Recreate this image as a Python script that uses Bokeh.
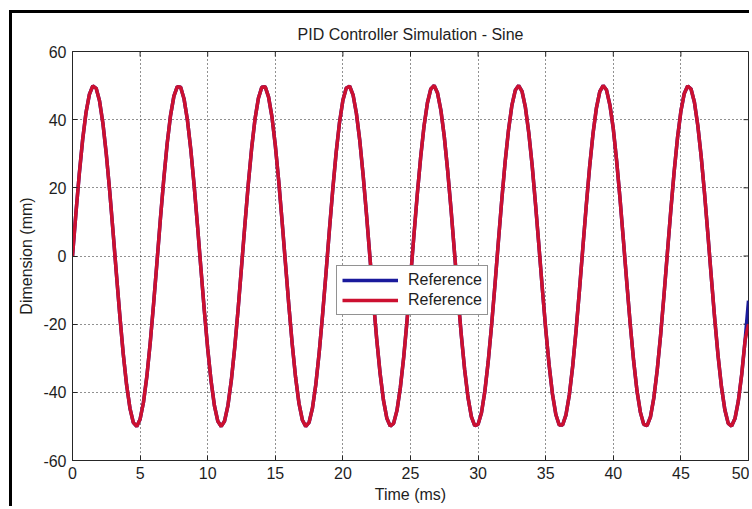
from bokeh.plotting import figure
from bokeh.models import FixedTicker, Legend, LegendItem, Range1d
from bokeh.embed import file_html
from bokeh.resources import INLINE

title_text = "PID Controller Simulation - Sine"
x_label = "Time (ms)"
y_label = "Dimension (mm)"
x_ticks = [0, 5, 10, 15, 20, 25, 30, 35, 40, 45, 50]
y_ticks = [-60, -40, -20, 0, 20, 40, 60]
legend_labels = ["Reference", "Reference"]
t_step = 0.25

reference_mm = [
    0.0, 12.4, 24.0, 34.1, 42.1, 47.4, 49.9, 49.2, 45.5, 38.9, 29.9, 19.1, 7.1, -5.4, -17.5, -28.6, -37.8, -44.7, -48.9, -50.0, -47.9, -42.9, -35.3, -25.4, -14.0,
    -1.7, 10.8, 22.5, 32.9, 41.2, 46.9, 49.7, 49.5, 46.1, 39.9, 31.2, 20.6, 8.7, -3.8, -16.0, -27.2, -36.7, -44.0, -48.5, -50.0, -48.4, -43.8, -36.4, -26.8, -15.6,
    -3.3, 9.1, 21.0, 31.6, 40.2, 46.3, 49.5, 49.7, 46.7, 40.9, 32.5, 22.1, 10.3, -2.1, -14.4, -25.8, -35.6, -43.2, -48.1, -50.0, -48.8, -44.6, -37.6, -28.2, -17.1,
    -5.0, 7.5, 19.5, 30.3, 39.2, 45.7, 49.3, 49.8, 47.3, 41.8, 33.8, 23.6, 12.0, -0.4, -12.8, -24.4, -34.4, -42.3, -47.6, -49.9, -49.1, -45.3, -38.6, -29.6, -18.7,
    -6.6, 5.9, 18.0, 28.9, 38.1, 44.9, 49.0, 50.0, 47.8, 42.7, 35.0, 25.0, 13.6, 1.2, -11.2, -22.9, -33.2, -41.4, -47.1, -49.8, -49.4, -46.0, -39.7, -30.9, -20.2,
    -8.3, 4.2, 16.4, 27.6, 37.0, 44.2, 48.6, 50.0, 48.3, 43.6, 36.1, 26.5, 15.1, 2.9, -9.6, -21.4, -31.9, -40.5, -46.5, -49.6, -49.6, -46.6, -40.7, -32.2, -21.7,
    -9.9, 2.5, 14.8, 26.2, 35.9, 43.4, 48.2, 50.0, 48.7, 44.3, 37.3, 27.8, 16.7, 4.5, -7.9, -19.9, -30.6, -39.5, -45.8, -49.4, -49.8, -47.2, -41.6, -33.4, -23.2,
    -11.5, 0.9, 13.2, 24.7, 34.7, 42.5, 47.7, 49.9, 49.0, 45.1, 38.3, 29.2, 18.3, 6.2, -6.3, -18.4, -29.3, -38.4, -45.1, -49.1, -49.9, -47.7, -42.5, -34.7, -24.7,
    -13.1,
]
output_mm = [
    0.0, 12.4, 24.0, 34.1, 42.1, 47.4, 49.9, 49.2, 45.5, 38.9, 29.9, 19.1, 7.1, -5.4, -17.5, -28.6, -37.8, -44.7, -48.9, -50.0, -47.9, -42.9, -35.3, -25.4, -14.0,
    -1.7, 10.8, 22.5, 32.9, 41.2, 46.9, 49.7, 49.5, 46.1, 39.9, 31.2, 20.6, 8.7, -3.8, -16.0, -27.2, -36.7, -44.0, -48.5, -50.0, -48.4, -43.8, -36.4, -26.8, -15.6,
    -3.3, 9.1, 21.0, 31.6, 40.2, 46.3, 49.5, 49.7, 46.7, 40.9, 32.5, 22.1, 10.3, -2.1, -14.4, -25.8, -35.6, -43.2, -48.1, -50.0, -48.8, -44.6, -37.6, -28.2, -17.1,
    -5.0, 7.5, 19.5, 30.3, 39.2, 45.7, 49.3, 49.8, 47.3, 41.8, 33.8, 23.6, 12.0, -0.4, -12.8, -24.4, -34.4, -42.3, -47.6, -49.9, -49.1, -45.3, -38.6, -29.6, -18.7,
    -6.6, 5.9, 18.0, 28.9, 38.1, 44.9, 49.0, 50.0, 47.8, 42.7, 35.0, 25.0, 13.6, 1.2, -11.2, -22.9, -33.2, -41.4, -47.1, -49.8, -49.4, -46.0, -39.7, -30.9, -20.2,
    -8.3, 4.2, 16.4, 27.6, 37.0, 44.2, 48.6, 50.0, 48.3, 43.6, 36.1, 26.5, 15.1, 2.9, -9.6, -21.4, -31.9, -40.5, -46.5, -49.6, -49.6, -46.6, -40.7, -32.2, -21.7,
    -9.9, 2.5, 14.8, 26.2, 35.9, 43.4, 48.2, 50.0, 48.7, 44.3, 37.3, 27.8, 16.7, 4.5, -7.9, -19.9, -30.6, -39.5, -45.8, -49.4, -49.8, -47.2, -41.6, -33.4, -23.2,
    -11.5, 0.9, 13.2, 24.7, 34.7, 42.5, 47.7, 49.9, 49.0, 45.1, 38.3, 29.2, 18.3, 6.2, -6.3, -18.4, -29.3, -38.4, -45.1, -49.1, -49.9, -47.7, -42.5, -34.7, -24.7,
    -20.0,
]
time_ms = [i * t_step for i in range(len(reference_mm))]

FONT = "Liberation Sans"
TXT = "#1e1e1e"
AX = "#262626"

p = figure(width=740, height=496, x_range=Range1d(0, 50), y_range=Range1d(-60, 60),
           output_backend="svg", toolbar_location=None, title=title_text,
           min_border_left=60, min_border_right=4, min_border_top=38, min_border_bottom=49)
p.styles = {"border-left": "3px solid black", "border-top": "3px solid black",
            "margin-left": "9px", "margin-top": "10px"}
p.background_fill_color = "white"
p.border_fill_color = "white"
p.outline_line_color = AX
p.outline_line_width = 1
p.outline_line_alpha = 1

p.title.align = "center"
p.title.text_font = FONT
p.title.text_font_size = "16px"
p.title.text_font_style = "normal"
p.title.text_color = TXT
p.title.standoff = 17

for ax in [p.xaxis[0], p.yaxis[0]]:
    ax.axis_line_color = AX
    ax.major_tick_line_color = AX
    ax.major_tick_in = 5
    ax.major_tick_out = 0
    ax.minor_tick_line_color = None
    ax.major_label_text_font = FONT
    ax.major_label_text_font_size = "16px"
    ax.major_label_text_color = TXT
    ax.axis_label_text_font = FONT
    ax.axis_label_text_font_size = "16px"
    ax.axis_label_text_font_style = "normal"
    ax.axis_label_text_color = TXT

p.xaxis[0].ticker = FixedTicker(ticks=x_ticks)
p.yaxis[0].ticker = FixedTicker(ticks=y_ticks)
p.yaxis[0].major_label_overrides = {v: str(v) for v in y_ticks}
p.xaxis[0].axis_label = x_label
p.yaxis[0].axis_label = y_label
p.xaxis[0].major_label_standoff = 6
p.xaxis[0].axis_label_standoff = 4
p.yaxis[0].major_label_standoff = 6
p.yaxis[0].axis_label_standoff = 5

# inward tick marks on the top and right edges of the box (MATLAB style)
tick_len_y = 1.46   # about 5 px in y data units
tick_len_x = 0.37   # about 5 px in x data units
p.segment(x0=x_ticks, y0=[y_ticks[-1]] * len(x_ticks), x1=x_ticks,
          y1=[y_ticks[-1] - tick_len_y] * len(x_ticks), line_color=AX, line_width=1)
p.segment(x0=[x_ticks[-1]] * len(y_ticks), y0=y_ticks,
          x1=[x_ticks[-1] - tick_len_x] * len(y_ticks), y1=y_ticks, line_color=AX, line_width=1)

for g in [p.xgrid[0], p.ygrid[0]]:
    g.grid_line_color = "#222222"
    g.grid_line_dash = "1 3"
    g.grid_line_width = 1
p.xgrid[0].ticker = FixedTicker(ticks=x_ticks)
p.ygrid[0].ticker = FixedTicker(ticks=y_ticks)

r_ref = p.line(time_ms, reference_mm, line_color="#1a1a9c", line_width=3.5)
r_out = p.line(time_ms, output_mm, line_color="#cc1030", line_width=3.5)

legend = Legend(items=[LegendItem(label=legend_labels[0], renderers=[r_ref]),
                       LegendItem(label=legend_labels[1], renderers=[r_out])],
                location=(264, 145))
legend.label_text_font = FONT
legend.label_text_font_size = "16px"
legend.label_text_color = TXT
legend.border_line_color = AX
legend.border_line_width = 1
legend.background_fill_alpha = 1
legend.padding = 5
legend.spacing = 2
legend.margin = 0
legend.glyph_width = 56
legend.glyph_height = 16
legend.label_height = 16
legend.label_standoff = 10
p.add_layout(legend, "center")

open("out.html", "w").write(file_html(p, INLINE))
